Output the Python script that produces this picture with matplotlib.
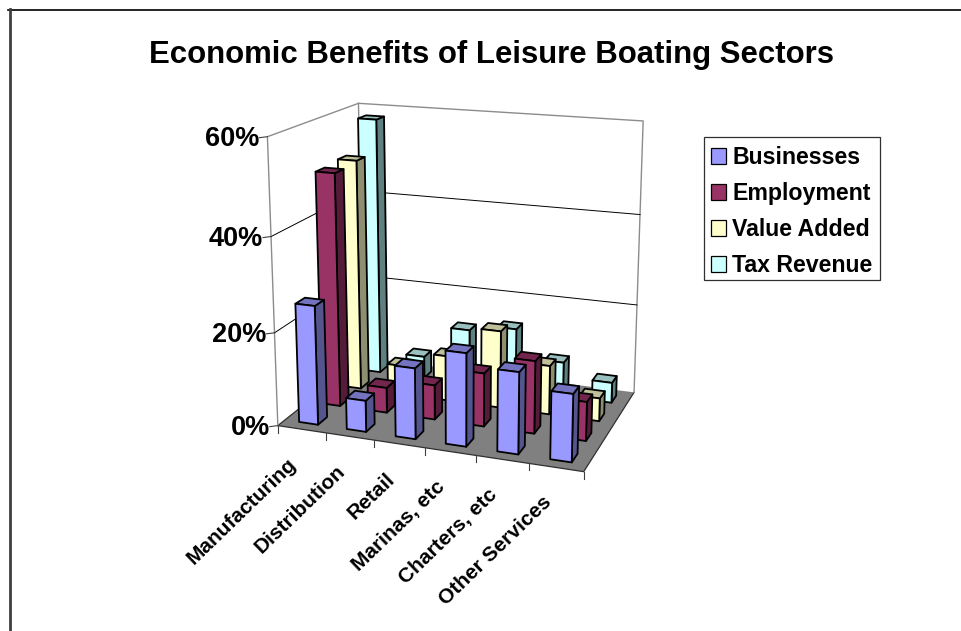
import numpy as np
import matplotlib
matplotlib.use('Agg')
import matplotlib.pyplot as plt
from matplotlib.patches import Polygon, Rectangle

plt.rcParams['font.family'] = ['Liberation Sans', 'DejaVu Sans']
plt.rcParams['font.weight'] = 'bold'

# Data
categories = ['Manufacturing', 'Distribution', 'Retail', 'Marinas, etc', 'Charters, etc', 'Other Services']
series = ['Businesses', 'Employment', 'Value Added', 'Tax Revenue']
businesses = [25.5, 6.7, 15.0, 19.5, 17.0, 14.0]
employment = [50.5, 5.5, 7.5, 11.5, 15.5, 8.3]
value_added = [51.0, 6.5, 10.0, 17.0, 10.7, 5.0]
tax_revenue = [58.0, 5.0, 12.5, 14.0, 7.7, 4.5]
values = [businesses, employment, value_added, tax_revenue]
z_ticks = [0, 20, 40, 60]

face_colors = ['#9999FF', '#993366', '#FFFFCC', '#CCFFFF']
top_colors = ['#7373BF', '#73264D', '#BFBF99', '#99BFBF']
side_colors = ['#55558E', '#551C39', '#8E8E71', '#5F8080']

# camera: (category, series, percent) -> pixel, solved from the corners of the box
box = np.array([[0, 0, 0], [6, 0, 0], [6, 4, 0], [0, 4, 0],
                [0, 0, 60], [6, 4, 60], [0, 4, 60]], float)
box_px = np.array([[278, 425], [584, 472], [634, 392], [363, 358],
                   [267, 137], [643, 121], [359, 103]], float)
rows = []
rhs = []
for (x, y, z), (u, v) in zip(box, box_px):
    rows.append([x, y, z, 1, 0, 0, 0, 0, -u * x, -u * y, -u * z])
    rows.append([0, 0, 0, 0, x, y, z, 1, -v * x, -v * y, -v * z])
    rhs += [u, v]
cam = np.linalg.lstsq(np.array(rows), np.array(rhs), rcond=None)[0]
cam = np.append(cam, 1).reshape(3, 4)


def proj(x, y, z):
    p = cam @ np.array([x, y, z, 1.0])
    return p[0] / p[2], p[1] / p[2]


fig = plt.figure(figsize=(9.61, 6.31), dpi=100)
ax = fig.add_axes([0, 0, 1, 1])
ax.set_xlim(0, 961)
ax.set_ylim(631, 0)
ax.axis('off')

# outer chart frame, only top and left are in view
ax.plot([8, 961], [9.5, 9.5], color='black', lw=1.2, zorder=1)
ax.plot([9.5, 9.5], [9, 631], color='#404040', lw=2.0, zorder=1)

ax.text(491.5, 55, 'Economic Benefits of Leisure Boating Sectors', fontsize=22.4,
        ha='center', va='center', color='black')

# floor
floor = [proj(0, 0, 0), proj(6, 0, 0), proj(6, 4, 0), proj(0, 4, 0)]
ax.add_patch(Polygon(floor, closed=True, fc='#808080', ec='none', zorder=2))
ax.plot(*zip(floor[3], floor[0], floor[1], floor[2]), color='#303030', lw=0.9, zorder=2)

# walls
wall_color = '#8C8C8C'
ax.plot(*zip(proj(0, 0, 0), proj(0, 0, 60), proj(0, 4, 60), proj(6, 4, 60), proj(6, 4, 0)),
        color=wall_color, lw=1.0, zorder=2)
ax.plot(*zip(proj(0, 4, 0), proj(0, 4, 60)), color=wall_color, lw=1.0, zorder=2)

# gridlines and value axis
for t in z_ticks:
    if 0 < t < 60:
        ax.plot(*zip(proj(0, 0, t), proj(0, 4, t), proj(6, 4, t)), color='black', lw=0.7, zorder=2)
    x0, y0 = proj(0, 0, t)
    ax.plot([x0 - 8, x0], [y0 + 1, y0], color='#404040', lw=0.8, zorder=2)
    ax.text(x0 - 8, y0 + 2.5, '%d%%' % t, fontsize=19.5, ha='right', va='center', color='black')

# category ticks and labels
for i in range(7):
    x0, y0 = proj(i, 0, 0)
    ax.plot([x0, x0], [y0, y0 + 7], color='#404040', lw=0.8, zorder=2)
for i, name in enumerate(categories):
    x0, y0 = proj(i + 0.5, 0, 0)
    ax.text(x0 - 8, y0 + 32, name, fontsize=15, rotation=44, rotation_mode='anchor',
            ha='right', va='center', color='black')

# bars, back row first, left to right within a row
width = 0.4
order = 3
for s in range(3, -1, -1):
    for c in range(6):
        h = values[s][c]
        x0, x1 = c + 0.5 - width / 2, c + 0.5 + width / 2
        y0, y1 = s + 0.5 - width / 2, s + 0.5 + width / 2
        side = [proj(x1, y0, 0), proj(x1, y1, 0), proj(x1, y1, h), proj(x1, y0, h)]
        top = [proj(x0, y0, h), proj(x1, y0, h), proj(x1, y1, h), proj(x0, y1, h)]
        front = [proj(x0, y0, 0), proj(x1, y0, 0), proj(x1, y0, h), proj(x0, y0, h)]
        for pts, col in [(side, side_colors[s]), (top, top_colors[s]), (front, face_colors[s])]:
            ax.add_patch(Polygon(pts, closed=True, fc=col, ec='black', lw=1.3,
                                 joinstyle='round', zorder=order))
            order += 0.01

# legend
ax.add_patch(Rectangle((704, 137), 176, 143, fc='white', ec='#303030', lw=0.9, zorder=10))
legend_y = [156, 192, 228, 264]
for name, col, ly in zip(series, face_colors, legend_y):
    ax.add_patch(Rectangle((711, ly - 8), 15, 16, fc=col, ec='black', lw=0.9, zorder=11))
    ax.text(732, ly + 1.5, name, fontsize=16.7, ha='left', va='center', color='black', zorder=11)

plt.savefig('out.png', dpi=100)
